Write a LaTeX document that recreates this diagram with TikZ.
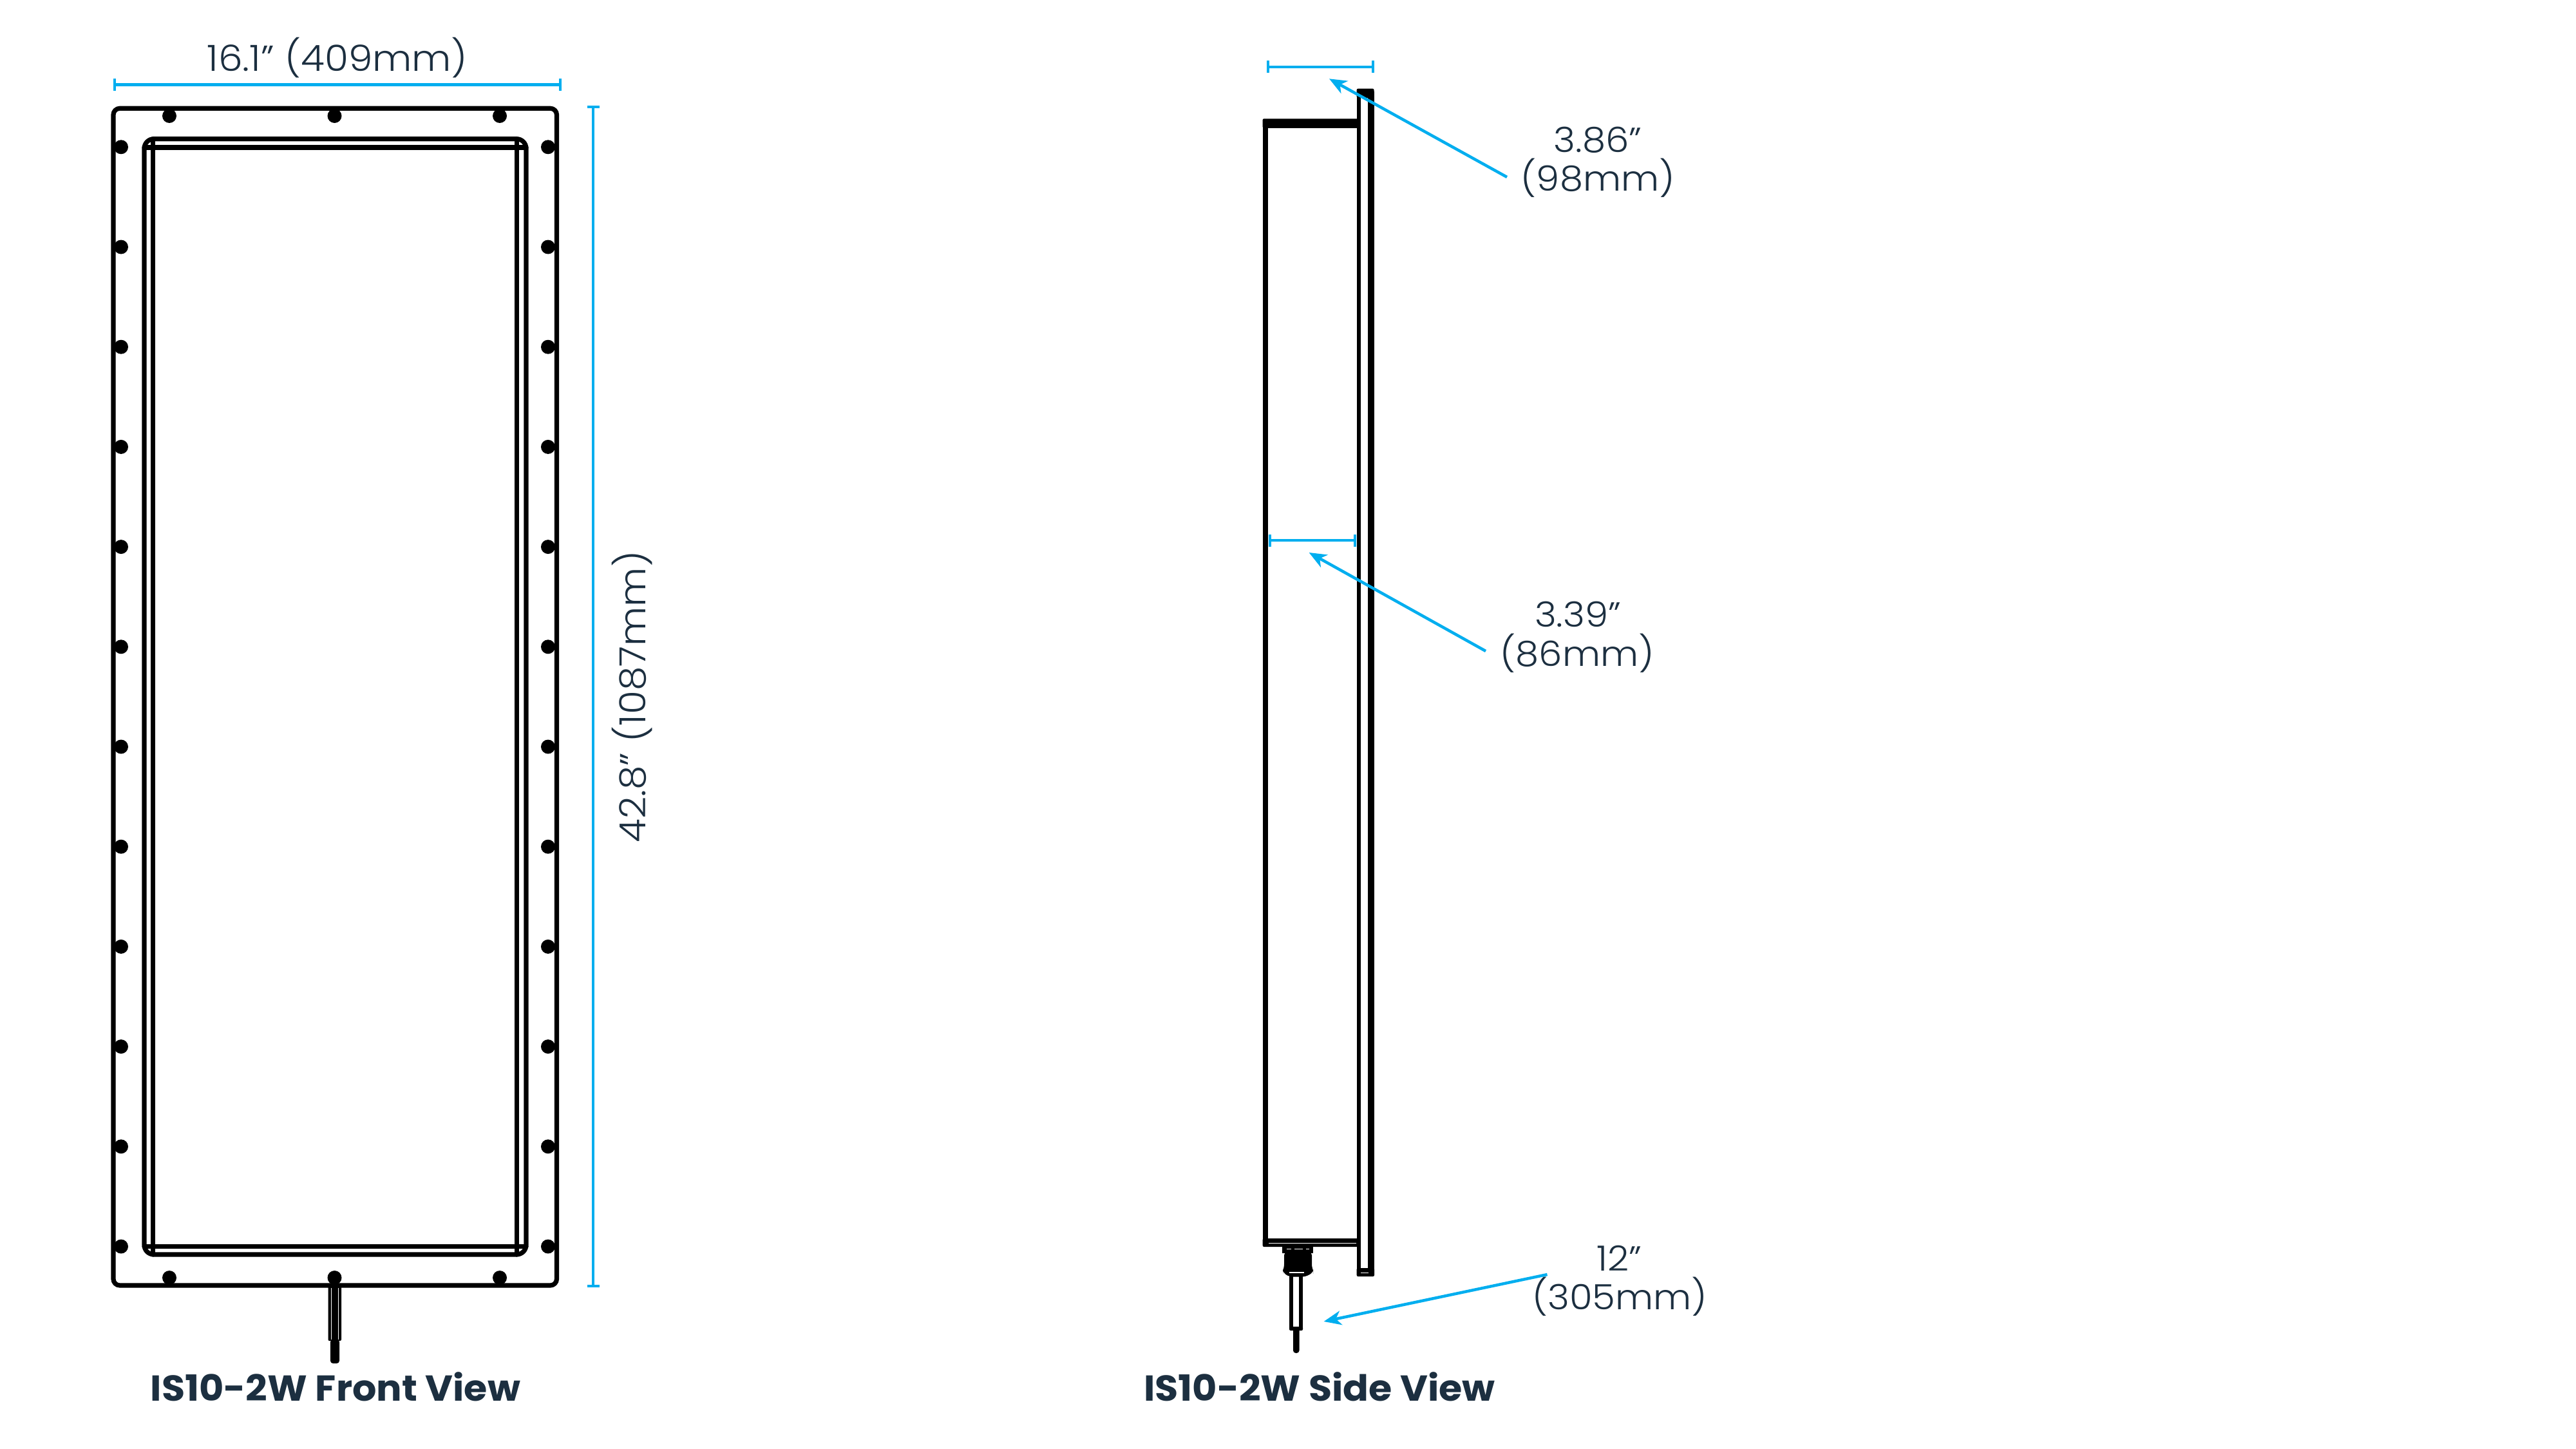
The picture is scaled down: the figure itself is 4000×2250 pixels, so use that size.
\documentclass[tikz,border=0pt]{standalone}
\usepackage{fontspec}
\usetikzlibrary{arrows.meta}
\newfontfamily\lightf[UprightFont={* Light},FakeStretch=1.07]{Poppins}
\newfontfamily\boldf[UprightFont={* Bold},FakeStretch=1.05]{Poppins}
\definecolor{dimblue}{HTML}{00AEEF}
\definecolor{inkblue}{HTML}{1C2F40}
\tikzset{
  part/.style={draw=black,line width=7.2pt,line join=round,line cap=round},
  bolt/.style={circle,fill=black,inner sep=0pt,minimum size=22pt},
  dimline/.style={draw=dimblue,line width=4.5pt},
  dimend/.style={draw=dimblue,line width=4pt},
  leader/.style={draw=dimblue,line width=4.5pt,-{Stealth[length=27pt,width=22pt,inset=8pt]}},
  dimtext/.style={text=inkblue,font=\lightf\fontsize{56pt}{56pt}\selectfont,anchor=base,inner sep=0pt},
  sidetext/.style={text=inkblue,font=\lightf\fontsize{54pt}{54pt}\selectfont,anchor=base,inner sep=0pt},
  titletext/.style={text=inkblue,font=\boldf\fontsize{56pt}{56pt}\selectfont,anchor=base,inner sep=0pt}
}
\begin{document}
\begin{tikzpicture}[x=1pt,y=-1pt]
\useasboundingbox (0,0) rectangle (4000,2250);
\fill[white] (0,0) rectangle (4000,2250);
% ---- Front view
\draw[part,rounded corners=10pt] (176,168.3) rectangle (864.5,1996);
\draw[part,rounded corners=15pt] (224,215.7) rectangle (817,1948);
\draw[part] (237.3,215.7) -- (237.3,1948);
\draw[part] (802.7,215.7) -- (802.7,1948);
\draw[part] (224,229) -- (817,229);
\draw[part] (224,1935.4) -- (817,1935.4);
\foreach \n/\bx in {a/263,b/519.5,c/776}{
  \node[bolt] (top\n) at (\bx,180) {};
  \node[bolt] (bot\n) at (\bx,1984) {};
}
\foreach \i in {0,...,11}{
  \node[bolt] (l\i) at (188,228.3+155.2*\i) {};
  \node[bolt] (r\i) at (851,228.3+155.2*\i) {};
}
% cable front
\fill[black,rounded corners=2pt] (509.5,1996) rectangle (530,2082);
\draw[white,line width=1pt] (514.5,2000) -- (514.5,2080) (525,2000) -- (525,2080);
\fill[black,rounded corners=4pt] (513,2080) rectangle (527,2117);
% dims front
\coordinate (wa) at (178,131.7); \coordinate (wb) at (869.5,131.7);
\draw[dimline] (wa) -- (wb);
\draw[dimend] (178,122) -- (178,141) (869.5,122) -- (869.5,141);
\coordinate (ha) at (921,166); \coordinate (hb) at (921,1997);
\draw[dimline] (ha) -- (hb);
\draw[dimend] (912,166) -- (930.7,166) (912,1997) -- (930.7,1997);
\node[dimtext] (wlabel) at (524,111) {16.1” (409mm)};
\node[dimtext,rotate=90] (hlabel) at (1002,1082) {42.8” (1087mm)};
\node[titletext] (ftitle) at (521,2175) {IS10-2W Front View};
% ---- Side view
\draw[part,line width=8.6pt,line cap=butt] (1965,190) -- (1965,1932);
\fill[black,rounded corners=2pt] (1960.7,184.3) rectangle (2110,199);
\fill[black,rounded corners=2pt] (1960.7,1923) rectangle (2110,1936);
\draw[white,line width=1pt] (1970,1930) -- (2106,1930);
\draw[part,line width=6.6pt,line cap=butt] (2110,140) -- (2110,1980);
\draw[part,line width=9.5pt,line cap=butt] (2129,142) -- (2129,1978);
\fill[black,rounded corners=2pt] (2106.7,137.7) rectangle (2133.5,152);
\fill[black,rounded corners=2pt] (2106.7,1969) rectangle (2134,1982);
\draw[white,line width=1pt] (2113,1976) -- (2125,1976);
% gland
\fill[black] (1991,1936) rectangle (2039,1946);
\draw[white,line width=1.5pt] (2010,1939.5) -- (2023,1939.5) (1998,1939.5) -- (2005,1939.5) (2028,1939.5) -- (2033,1939.5);
\fill[black,rounded corners=5pt] (1994,1944) -- (2037,1944) -- (2037,1968) -- (2039,1973) -- (2039,1976) -- (2027,1982.5) -- (2002,1982.5) -- (1992,1976) -- (1992,1973) -- (1994,1968) -- cycle;
\draw[white,line width=1.5pt] (2002,1976) -- (2025,1976);
% cable side
\draw[part,line width=6.5pt,line cap=butt] (2005,1982) -- (2005,2062);
\draw[part,line width=6.5pt,line cap=butt] (2020,1982) -- (2020,2062);
\fill[black,rounded corners=2pt] (2002,2060) rectangle (2023,2066);
\fill[black,rounded corners=4pt] (2008,2062) rectangle (2017.5,2101);
% dims side
\coordinate (da) at (1968.7,104); \coordinate (db) at (2132.3,104);
\draw[dimline] (da) -- (db);
\draw[dimend] (1968.7,94.3) -- (1968.7,113.3) (2132.3,94.3) -- (2132.3,113.3);
\coordinate (ca) at (1972.3,839); \coordinate (cb) at (2104,839);
\draw[dimline] (ca) -- (cb);
\draw[dimend] (1972.3,830) -- (1972.3,849) (2104,830) -- (2104,849);
\coordinate (la1) at (2340,275); \coordinate (lt1) at (2064,122.3);
\coordinate (la2) at (2307,1011); \coordinate (lt2) at (2032.6,858);
\coordinate (la3) at (2402.5,1979); \coordinate (lt3) at (2055.6,2052);
\draw[leader] (la1) -- (lt1);
\draw[leader] (la2) -- (lt2);
\draw[leader] (la3) -- (lt3);
\node[sidetext] (t1a) at (2481,237) {3.86”};
\node[sidetext] (t1b) at (2481,297) {(98mm)};
\node[sidetext] (t2a) at (2450,973) {3.39”};
\node[sidetext] (t2b) at (2449,1034) {(86mm)};
\node[sidetext] (t3a) at (2514,1973) {12”};
\node[sidetext] (t3b) at (2515,2033) {(305mm)};
\node[titletext] (stitle) at (2049,2175) {IS10-2W Side View};
\end{tikzpicture}
\end{document}
